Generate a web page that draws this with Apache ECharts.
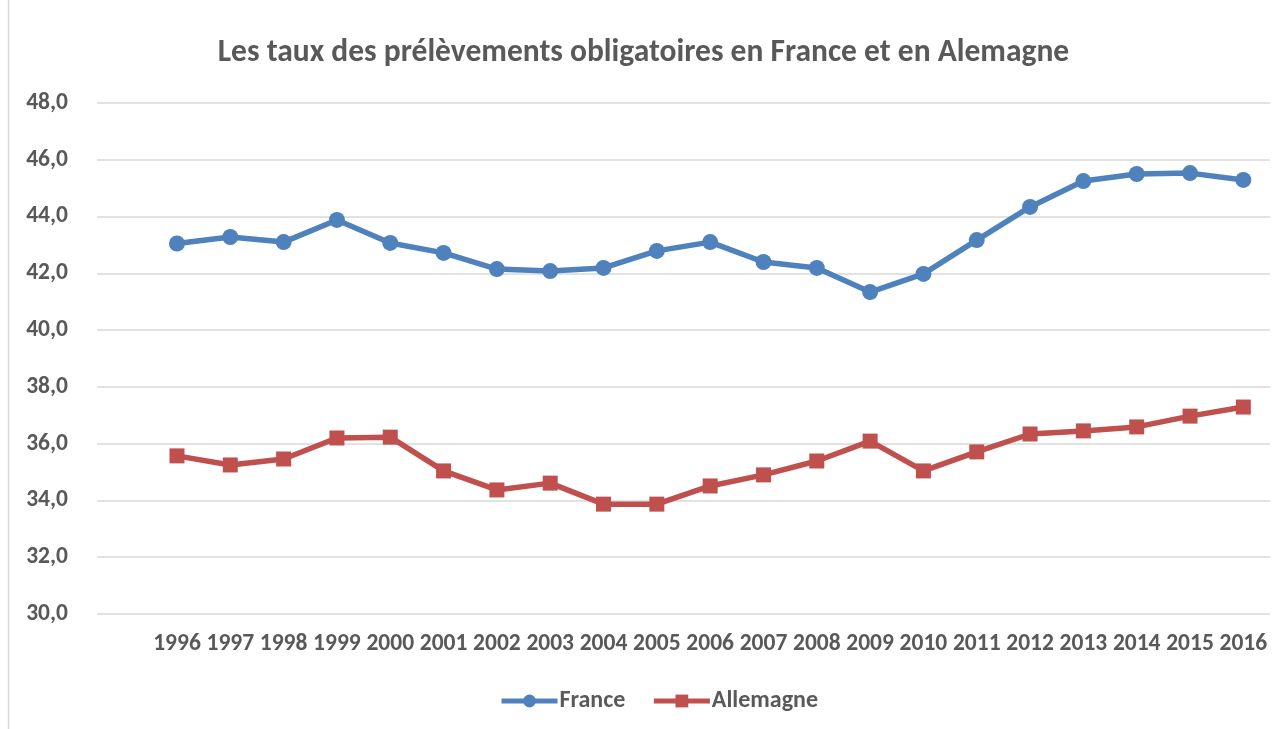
<!DOCTYPE html>
<html>
<head>
<meta charset="utf-8">
<script src="https://cdn.jsdelivr.net/npm/echarts@6/dist/echarts.min.js"></script>
<style>
  html, body { margin: 0; padding: 0; background: #fff; }
  #chart { width: 1287px; height: 729px; }
</style>
</head>
<body>
<div id="chart"></div>
<script>
// ---- données ----
const annees = ['', '1996', '1997', '1998', '1999', '2000', '2001', '2002', '2003', '2004', '2005',
  '2006', '2007', '2008', '2009', '2010', '2011', '2012', '2013', '2014', '2015', '2016']
const france = [null, 43.05, 43.28, 43.1, 43.88, 43.07, 42.72, 42.15, 42.08, 42.19, 42.79,
  43.1, 42.4, 42.19, 41.34, 41.98, 43.17, 44.34, 45.25, 45.5, 45.53, 45.29]
const allemagne = [null, 35.57, 35.25, 35.46, 36.2, 36.23, 35.04, 34.37, 34.61, 33.87, 33.87,
  34.51, 34.9, 35.39, 36.09, 35.04, 35.71, 36.34, 36.45, 36.59, 36.97, 37.29]
const yMin = 30
const yMax = 48
const yPas = 2

const police = 'Carlito, Lato, "Open Sans", sans-serif'
const gris = '#595959'

const chart = echarts.init(document.getElementById('chart'))

chart.setOption({
  animation: false,
  backgroundColor: '#fff',
  title: {
    text: 'Les taux des prélèvements obligatoires en France et en Alemagne',
    left: 'center',
    top: 32,
    textStyle: { fontFamily: police, fontSize: 31.5, fontWeight: 'bold', color: gris }
  },
  // bordure gauche du cadre
  graphic: [{
    type: 'line',
    shape: { x1: 8.5, y1: 0, x2: 8.5, y2: 729 },
    style: { stroke: '#d9d9d9', lineWidth: 1.5 }
  }],
  legend: {
    bottom: 11,
    left: 494,
    itemWidth: 56,
    itemHeight: 16,
    itemGap: 26,
    lineStyle: { width: 5 },
    textStyle: { fontFamily: police, fontSize: 24, fontWeight: 'bold', color: gris, padding: [0, 0, 0, -3] },
    data: ['France', 'Allemagne']
  },
  grid: { left: 97, right: 17, top: 103, bottom: 115 },
  xAxis: {
    type: 'category',
    data: annees,
    axisLine: { show: false },
    axisTick: { show: false },
    axisLabel: {
      interval: 0,
      margin: 18,
      fontFamily: police, fontSize: 23.5, fontWeight: 'bold', color: gris
    }
  },
  yAxis: {
    type: 'value',
    min: yMin,
    max: yMax,
    interval: yPas,
    axisLine: { show: false },
    axisTick: { show: false },
    splitLine: { lineStyle: { color: '#d9d9d9', width: 1.5 } },
    axisLabel: {
      margin: 29,
      fontFamily: police, fontSize: 23.5, fontWeight: 'bold', color: gris,
      formatter: v => v.toFixed(1).replace('.', ',')
    }
  },
  series: [
    {
      name: 'France',
      type: 'line',
      data: france,
      symbol: 'circle',
      symbolSize: 16,
      color: '#4F81BD',
      lineStyle: { width: 5.5, color: '#4F81BD' },
      itemStyle: { color: '#4F81BD' }
    },
    {
      name: 'Allemagne',
      type: 'line',
      data: allemagne,
      symbol: 'rect',
      symbolSize: 15,
      color: '#C0504D',
      lineStyle: { width: 5.5, color: '#C0504D' },
      itemStyle: { color: '#C0504D' }
    }
  ]
})
</script>
</body>
</html>
